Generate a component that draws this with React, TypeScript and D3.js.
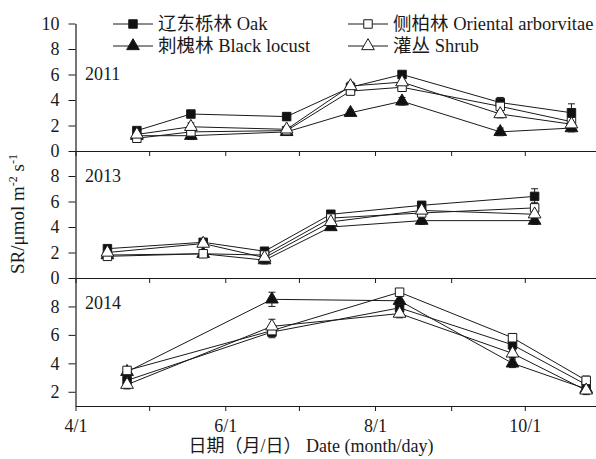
import React, { useEffect, useRef } from "react";
import * as d3 from "d3";

// sampling dates (month-day) per year
const dates2011 = ["04-26", "05-18", "06-26", "07-22", "08-12", "09-21", "10-20"];
const dates2013 = ["04-14", "05-23", "06-17", "07-14", "08-20", "10-05"];
const dates2014 = ["04-22", "06-20", "08-11", "09-26", "10-26"];

// soil respiration, μmol m-2 s-1
const oak2011 = [1.6, 2.9, 2.7, 5.0, 6.0, 3.8, 3.0];
const locust2011 = [1.2, 1.2, 1.5, 3.0, 3.9, 1.5, 1.8];
const oriental2011 = [1.0, 1.5, 1.6, 4.7, 5.0, 3.5, 2.3];
const shrub2011 = [1.3, 1.9, 1.7, 5.1, 5.4, 2.9, 2.1];

const oak2013 = [2.3, 2.8, 2.1, 5.0, 5.7, 6.4];
const locust2013 = [1.8, 1.9, 1.4, 4.0, 4.5, 4.5];
const oriental2013 = [1.7, 1.9, 1.8, 4.7, 5.1, 5.5];
const shrub2013 = [2.0, 2.7, 1.6, 4.4, 5.3, 5.0];

const oak2014 = [2.8, 6.2, 7.9, 5.3, 2.5];
const locust2014 = [3.4, 8.5, 8.4, 4.0, 2.2];
const oriental2014 = [3.5, 6.3, 9.0, 5.8, 2.8];
const shrub2014 = [2.5, 6.6, 7.5, 4.7, 2.1];

// standard errors
const oakErr2011 = [0.2, 0.2, 0.3, 0.3, 0.2, 0.4, 0.7];
const locustErr2011 = [0.2, 0.3, 0.2, 0.2, 0.3, 0.3, 0.3];
const orientalErr2011 = [0.2, 0.2, 0.2, 0.3, 0.3, 0.5, 0.3];
const shrubErr2011 = [0.2, 0.3, 0.2, 0.3, 0.3, 0.3, 0.3];

const oakErr2013 = [0.2, 0.2, 0.2, 0.2, 0.3, 0.6];
const locustErr2013 = [0.2, 0.2, 0.3, 0.2, 0.3, 0.3];
const orientalErr2013 = [0.2, 0.2, 0.2, 0.2, 0.3, 0.4];
const shrubErr2013 = [0.2, 0.2, 0.2, 0.2, 0.3, 0.3];

const oakErr2014 = [0.3, 0.4, 0.3, 0.4, 0.3];
const locustErr2014 = [0.3, 0.5, 0.3, 0.3, 0.3];
const orientalErr2014 = [0.2, 0.4, 0.2, 0.3, 0.3];
const shrubErr2014 = [0.3, 0.5, 0.3, 0.3, 0.3];

const years = ["2011", "2013", "2014"];
const yDomains = [[0, 10], [0, 10], [1, 10]];
const yTicks = [[0, 2, 4, 6, 8, 10], [0, 2, 4, 6, 8], [2, 4, 6, 8]];

const seriesNames = ["辽东栎林 Oak", "刺槐林 Black locust", "侧柏林 Oriental arborvitae", "灌丛 Shrub"];
const xTickLabels = ["4/1", "6/1", "8/1", "10/1"];

const FONT = "'Liberation Serif', 'Times New Roman', 'Noto Sans CJK SC', serif";

export default function App() {
  const svgRef = useRef(null);

  useEffect(() => {
    const svg = d3.select(svgRef.current);
    svg.selectAll("*").remove();

    const parse = d3.timeParse("%Y-%m-%d");
    const md = (s) => parse("2011-" + s);

    const x = d3.scaleTime()
      .domain([md("04-01"), md("10-30")])
      .range([75.5, 596]);

    const panelTops = [23.5, 150.5, 278];
    const panelBottoms = [151, 278, 406];
    const yearOffsets = [56, 31, 31];

    const panels = [
      { dates: dates2011, vals: [oak2011, locust2011, oriental2011, shrub2011], errs: [oakErr2011, locustErr2011, orientalErr2011, shrubErr2011] },
      { dates: dates2013, vals: [oak2013, locust2013, oriental2013, shrub2013], errs: [oakErr2013, locustErr2013, orientalErr2013, shrubErr2013] },
      { dates: dates2014, vals: [oak2014, locust2014, oriental2014, shrub2014], errs: [oakErr2014, locustErr2014, orientalErr2014, shrubErr2014] },
    ];

    const symbols = [d3.symbolSquare, d3.symbolTriangle, d3.symbolSquare, d3.symbolTriangle];
    const sizes = [72, 70, 72, 70];
    const fills = ["#111", "#111", "#fff", "#fff"];
    const ink = "#1a1a1a";

    const monthTicks = d3.timeMonth.range(md("04-01"), md("10-02"));
    const labelled = new Set(xTickLabels);
    const fmt = (d) => `${d.getMonth() + 1}/${d.getDate()}`;

    panels.forEach((p, i) => {
      const y = d3.scaleLinear().domain(yDomains[i]).range([panelBottoms[i], panelTops[i]]);
      const g = svg.append("g");

      // x axis on the panel bottom
      const xa = d3.axisBottom(x).tickValues(monthTicks).tickSize(5).tickSizeOuter(0)
        .tickFormat((d) => (i === 2 && labelled.has(fmt(d)) ? fmt(d) : ""));
      const gx = g.append("g").attr("transform", `translate(0,${panelBottoms[i]})`).call(xa);
      gx.select(".domain").attr("stroke", ink).attr("stroke-width", 1.2);
      gx.selectAll(".tick line").attr("stroke", ink);
      gx.selectAll(".tick text").attr("font-family", FONT).attr("font-size", 18).attr("fill", ink).attr("dy", "1.0em");

      // y axis
      const ya = d3.axisLeft(y).tickValues(yTicks[i]).tickSize(7).tickPadding(9).tickSizeOuter(0);
      const gy = g.append("g").attr("transform", "translate(75.5,0)").call(ya);
      gy.select(".domain").attr("stroke", ink).attr("stroke-width", 1.2);
      gy.selectAll(".tick line").attr("stroke", ink);
      gy.selectAll(".tick text").attr("font-family", FONT).attr("font-size", 18).attr("fill", ink);

      g.append("text").attr("x", 85).attr("y", panelTops[i] + yearOffsets[i])
        .attr("font-family", FONT).attr("font-size", 18).attr("fill", ink).text(years[i]);

      const line = d3.line().x((d) => x(md(d[0]))).y((d) => y(d[1]));
      p.vals.forEach((vals) => {
        g.append("path").datum(p.dates.map((d, k) => [d, vals[k]]))
          .attr("d", line).attr("fill", "none").attr("stroke", ink).attr("stroke-width", 1);
      });

      // error bars
      p.vals.forEach((vals, s) => {
        p.dates.forEach((d, k) => {
          const cx = x(md(d));
          const e = p.errs[s][k];
          const y1 = y(vals[k] + e), y2 = y(vals[k] - e);
          g.append("line").attr("x1", cx).attr("x2", cx).attr("y1", y1).attr("y2", y2).attr("stroke", ink);
          [y1, y2].forEach((yy) => g.append("line").attr("x1", cx - 3.5).attr("x2", cx + 3.5)
            .attr("y1", yy).attr("y2", yy).attr("stroke", ink));
        });
      });

      // markers
      p.vals.forEach((vals, s) => {
        p.dates.forEach((d, k) => {
          g.append("path").attr("d", d3.symbol().type(symbols[s]).size(sizes[s])())
            .attr("transform", `translate(${x(md(d))},${y(vals[k])})`)
            .attr("fill", fills[s]).attr("stroke", ink).attr("stroke-width", 1);
        });
      });
    });

    // legend
    const legX = [113, 348];
    const legY = [24, 46];
    seriesNames.forEach((name, s) => {
      const lx = legX[Math.floor(s / 2)];
      const ly = legY[s % 2];
      const lg = svg.append("g");
      lg.append("line").attr("x1", lx).attr("x2", lx + 40).attr("y1", ly).attr("y2", ly).attr("stroke", ink);
      lg.append("path").attr("d", d3.symbol().type(symbols[s]).size(sizes[s])())
        .attr("transform", `translate(${lx + 20},${ly})`).attr("fill", fills[s]).attr("stroke", ink);
      lg.append("text").attr("x", lx + 45).attr("y", ly).attr("dy", "0.35em")
        .attr("font-family", FONT).attr("font-size", 18.5).attr("fill", ink).text(name);
    });

    // axis titles
    const yl = svg.append("text").attr("transform", "translate(24,214) rotate(-90)")
      .attr("text-anchor", "middle").attr("font-family", FONT).attr("font-size", 19).attr("fill", ink);
    yl.append("tspan").text("SR/μmol m");
    yl.append("tspan").attr("dy", -7).attr("font-size", 12).text("-2");
    yl.append("tspan").attr("dy", 7).text(" s");
    yl.append("tspan").attr("dy", -7).attr("font-size", 12).text("-1");

    svg.append("text").attr("x", 311).attr("y", 452).attr("text-anchor", "middle")
      .attr("font-family", FONT).attr("font-size", 18).attr("fill", ink)
      .text("日期（月/日） Date (month/day)");
  }, []);

  return (
    <svg ref={svgRef} width={596} height={459}
      style={{ position: "absolute", left: 0, top: 0, background: "#fff" }} />
  );
}
